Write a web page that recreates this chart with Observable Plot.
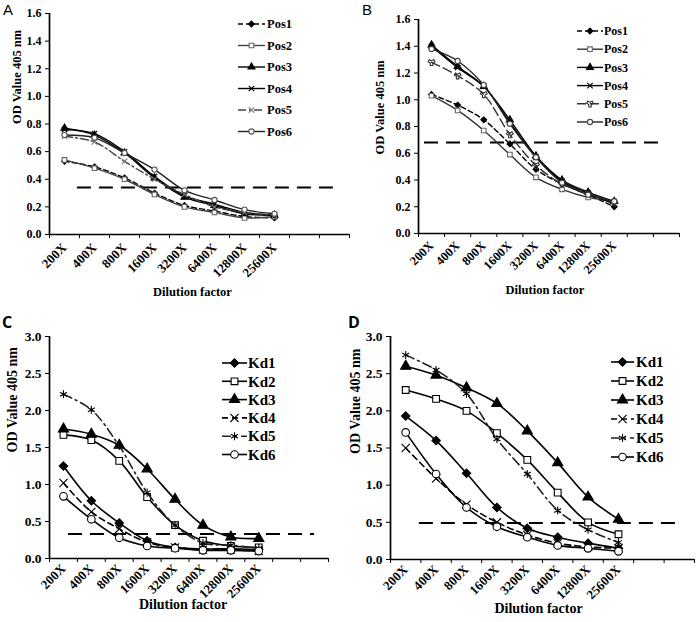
<!DOCTYPE html>
<html><head><meta charset="utf-8">
<script src="https://cdn.jsdelivr.net/npm/d3@7"></script>
<script src="https://cdn.jsdelivr.net/npm/@observablehq/plot@0.6"></script>
<style>
body{margin:0;background:#fff;}
#wrap{position:relative;width:696px;height:622px;overflow:hidden;background:#fff;}
#wrap > svg{position:absolute;}
</style></head><body><div id="wrap"></div>
<script>
// ---------- data ----------
const dilutions = ["200X","400X","800X","1600X","3200X","6400X","12800X","25600X"];
const posNames = ["Pos1","Pos2","Pos3","Pos4","Pos5","Pos6"];
const kdNames = ["Kd1","Kd2","Kd3","Kd4","Kd5","Kd6"];
const yTicksAB = [0,0.2,0.4,0.6,0.8,1.0,1.2,1.4,1.6];
const yTicksCD = [0,0.5,1.0,1.5,2.0,2.5,3.0];
const cutoffs = [0.34, 0.68, 0.33, 0.49];

const A_Pos1 = [0.53,0.49,0.41,0.30,0.21,0.17,0.13,0.12];
const A_Pos2 = [0.54,0.48,0.40,0.29,0.20,0.16,0.12,0.13];
const A_Pos3 = [0.77,0.72,0.59,0.41,0.27,0.21,0.15,0.14];
const A_Pos4 = [0.76,0.73,0.60,0.42,0.28,0.22,0.16,0.14];
const A_Pos5 = [0.71,0.67,0.53,0.40,0.29,0.20,0.16,0.14];
const A_Pos6 = [0.72,0.70,0.59,0.47,0.32,0.25,0.18,0.15];

const B_Pos1 = [1.04,0.96,0.85,0.67,0.48,0.37,0.29,0.20];
const B_Pos2 = [1.03,0.92,0.77,0.59,0.42,0.33,0.27,0.24];
const B_Pos3 = [1.41,1.25,1.10,0.85,0.58,0.40,0.31,0.24];
const B_Pos4 = [1.40,1.24,1.10,0.83,0.57,0.39,0.30,0.22];
const B_Pos5 = [1.28,1.18,1.04,0.74,0.51,0.37,0.30,0.23];
const B_Pos6 = [1.38,1.29,1.11,0.82,0.57,0.38,0.29,0.24];

const C_Kd1 = [1.25,0.78,0.48,0.24,0.15,0.13,0.13,0.12];
const C_Kd2 = [1.67,1.60,1.32,0.83,0.45,0.24,0.17,0.15];
const C_Kd3 = [1.75,1.68,1.53,1.21,0.80,0.45,0.29,0.27];
const C_Kd4 = [1.02,0.63,0.40,0.22,0.15,0.12,0.12,0.10];
const C_Kd5 = [2.22,2.01,1.52,0.89,0.45,0.21,0.18,0.14];
const C_Kd6 = [0.84,0.53,0.28,0.17,0.14,0.11,0.11,0.10];

const D_Kd1 = [1.93,1.60,1.16,0.70,0.42,0.30,0.22,0.15];
const D_Kd2 = [2.28,2.16,2.00,1.70,1.34,0.90,0.50,0.34];
const D_Kd3 = [2.60,2.48,2.31,2.10,1.73,1.30,0.84,0.54];
const D_Kd4 = [1.50,1.09,0.74,0.50,0.33,0.22,0.17,0.15];
const D_Kd5 = [2.75,2.55,2.23,1.62,1.15,0.66,0.40,0.23];
const D_Kd6 = [1.71,1.15,0.70,0.44,0.30,0.19,0.15,0.11];

// ---------- styles ----------
const posStylesA = [
  {symbol:"diamond2", fill:"#000", stroke:"#000", line:"#000", dash:"5,3"},
  {symbol:"square", fill:"#fff", stroke:"#666", line:"#444", dash:null},
  {symbol:"triangle", fill:"#000", stroke:"#000", line:"#000", dash:null},
  {symbol:"times", fill:"none", stroke:"#000", line:"#000", dash:null},
  {symbol:"times", fill:"none", stroke:"#777", line:"#444", dash:"8,3,2,3"},
  {symbol:"circle", fill:"#fff", stroke:"#555", line:"#222", dash:null}
];
const posStylesB = [
  {symbol:"diamond2", fill:"#000", stroke:"#000", line:"#000", dash:"5,3"},
  {symbol:"square", fill:"#fff", stroke:"#666", line:"#333", dash:null},
  {symbol:"triangle", fill:"#000", stroke:"#000", line:"#000", dash:null},
  {symbol:"times", fill:"none", stroke:"#000", line:"#000", dash:null},
  {symbol:"wye", fill:"none", stroke:"#333", line:"#333", dash:"9,4"},
  {symbol:"circle", fill:"#fff", stroke:"#444", line:"#222", dash:null}
];
const kdStyles = [
  {symbol:"diamond2", fill:"#000", stroke:"#000", line:"#000", dash:null},
  {symbol:"square", fill:"#fff", stroke:"#000", line:"#000", dash:null},
  {symbol:"triangle", fill:"#000", stroke:"#000", line:"#000", dash:null},
  {symbol:"times", fill:"none", stroke:"#000", line:"#000", dash:"6,4"},
  {symbol:"asterisk", fill:"none", stroke:"#000", line:"#222", dash:"9,4,2,4"},
  {symbol:"circle", fill:"#fff", stroke:"#000", line:"#000", dash:null}
];

const panels = [
  {letter:"A", letterBold:false, lx:3, ly:15, names:posNames, series:[A_Pos1,A_Pos2,A_Pos3,A_Pos4,A_Pos5,A_Pos6], styles:posStylesA,
   yMax:1.6, yTicks:yTicksAB, cutoff:cutoffs[0], cutStart:0.93,
   left:0, top:0, width:350, height:300, mL:49, mR:1, mT:13, mB:66, r:2.6, lw:1.4,
   ylabDx:-33, ylabDy:0, xlabDx:-7, xlabDy:61, font:12, xfont:13, xpad:11, labFont:12.5,
   leg:{x0:238, x1:265, tx:267, y0:24, dy:21.5, font:12.5, r:2.6}},
  {letter:"B", letterBold:false, lx:362, ly:15, names:posNames, series:[B_Pos1,B_Pos2,B_Pos3,B_Pos4,B_Pos5,B_Pos6], styles:posStylesB,
   yMax:1.6, yTicks:yTicksAB, cutoff:cutoffs[1], cutStart:0.23,
   left:346, top:0, width:350, height:300, mL:72, mR:17, mT:19, mB:67, r:2.6, lw:1.4,
   ylabDx:-39, ylabDy:28, xlabDx:-4, xlabDy:60, font:12, xfont:12.5, xpad:10, labFont:12.5,
   leg:{x0:577, x1:603, tx:604, y0:31, dy:18.2, font:12, r:2.6}},
  {letter:"C", letterBold:true, lx:2, ly:328, names:kdNames, series:[C_Kd1,C_Kd2,C_Kd3,C_Kd4,C_Kd5,C_Kd6], styles:kdStyles,
   yMax:3.0, yTicks:yTicksCD, cutoff:cutoffs[2], cutStart:0.68,
   left:0, top:300, width:346, height:322, mL:49, mR:18, mT:36, mB:64, r:3.8, lw:1.6,
   ylabDx:-37, ylabDy:5, xlabDx:-6, xlabDy:50, font:13.5, xfont:13, xpad:8, labFont:14,
   leg:{x0:222, x1:247, tx:248, y0:363, dy:18.3, font:15, r:3.8}},
  {letter:"D", letterBold:true, lx:348, ly:328, names:kdNames, series:[D_Kd1,D_Kd2,D_Kd3,D_Kd4,D_Kd5,D_Kd6], styles:kdStyles,
   yMax:3.0, yTicks:yTicksCD, cutoff:cutoffs[3], cutStart:0.95,
   left:346, top:300, width:350, height:322, mL:44, mR:2, mT:36, mB:63, r:3.8, lw:1.6,
   ylabDx:-35, ylabDy:6, xlabDx:-4, xlabDy:53, font:13.5, xfont:13, xpad:8, labFont:14,
   leg:{x0:611, x1:634, tx:636, y0:362, dy:19, font:15, r:3.8}}
];

const serif = "'Liberation Serif','Times New Roman',serif";
const wrap = document.getElementById("wrap");

for (const p of panels) {
  const marks = [];
  marks.push(Plot.ruleY([p.cutoff], {x1: p.cutStart, x2: 9.5, stroke:"#000", strokeWidth:2, strokeDasharray:"14,8"}));
  p.series.forEach((vals, k) => {
    const st = p.styles[k];
    const data = vals.map((v, i) => ({x: i + 0.5, y: v}));
    marks.push(Plot.line(data, {x:"x", y:"y", curve:"catmull-rom", stroke:st.line, strokeWidth:p.lw,
      strokeDasharray: st.dash || undefined}));
    marks.push(Plot.dot(data, {x:"x", y:"y", symbol: st.symbol, r:p.r, fill:st.fill, stroke:st.stroke, strokeWidth:1.1}));
  });
  marks.push(Plot.ruleY([0], {stroke:"#000", strokeWidth:1.7}));
  marks.push(Plot.ruleX([0], {stroke:"#000", strokeWidth:1.7}));
  marks.push(Plot.axisY({ticks:p.yTicks, tickFormat:d3.format(".1f"), tickSize:4, tickPadding:4, label:null, fontSize:p.font}));
  marks.push(Plot.axisX({ticks:d3.range(11), tickFormat:() => "", tickSize:4, label:null}));
  marks.push(Plot.axisX({ticks:d3.range(8).map(i => i + 0.5), tickFormat:d => dilutions[Math.round(d - 0.5)],
    tickSize:0, tickPadding:p.xpad, tickRotate:-45, label:null, fontSize:p.xfont}));
  marks.push(Plot.text(["OD Value 405 nm"], {frameAnchor:"left", rotate:-90, dx:p.ylabDx, dy:p.ylabDy, lineAnchor:"middle", fontSize:p.labFont, fontWeight:"bold"}));
  marks.push(Plot.text(["Dilution factor"], {frameAnchor:"bottom", dx:p.xlabDx, dy:p.xlabDy, fontSize:p.labFont, fontWeight:"bold"}));

  const svg = Plot.plot({
    width:p.width, height:p.height,
    marginLeft:p.mL, marginRight:p.mR, marginTop:p.mT, marginBottom:p.mB,
    x:{type:"linear", domain:[0,10]},
    y:{type:"linear", domain:[0,p.yMax]},
    style:{fontFamily:serif, fontWeight:"bold", fontSize:p.font + "px", background:"transparent", color:"#000", overflow:"visible"},
    marks
  });
  svg.style.left = p.left + "px";
  svg.style.top = p.top + "px";
  svg.style.maxWidth = "none";
  wrap.appendChild(svg);
}

// overlay: panel letters and legends
const ov = d3.select(wrap).append("svg").attr("width",696).attr("height",622)
  .style("left","0px").style("top","0px").style("pointer-events","none");
const symMap = {diamond2:d3.symbolDiamond2, square:d3.symbolSquare, triangle:d3.symbolTriangle,
  times:d3.symbolTimes, asterisk:d3.symbolAsterisk, circle:d3.symbolCircle, wye:d3.symbolWye};
for (const p of panels) {
  ov.append("text").attr("x",p.lx).attr("y",p.ly).text(p.letter)
    .attr("font-family", p.letterBold ? "'Open Sans','Liberation Sans',sans-serif" : "'Liberation Sans',Arial,sans-serif")
    .attr("font-weight", p.letterBold ? "bold" : "normal").attr("font-size", p.letterBold ? 16 : 15);
  const L = p.leg;
  p.names.forEach((name, k) => {
    const st = p.styles[k];
    const y = L.y0 + k * L.dy;
    ov.append("line").attr("x1",L.x0).attr("x2",L.x1).attr("y1",y).attr("y2",y)
      .attr("stroke",st.line).attr("stroke-width",p.lw).attr("stroke-dasharray",st.dash || null);
    ov.append("path").attr("d", d3.symbol(symMap[st.symbol], Math.PI * L.r * L.r)())
      .attr("transform",`translate(${(L.x0+L.x1)/2},${y})`)
      .attr("fill",st.fill).attr("stroke",st.stroke).attr("stroke-width",1.1);
    ov.append("text").attr("x",L.tx).attr("y",y).attr("dy","0.35em").text(name)
      .attr("font-family",serif).attr("font-weight","bold").attr("font-size",L.font);
  });
}
</script></body></html>
